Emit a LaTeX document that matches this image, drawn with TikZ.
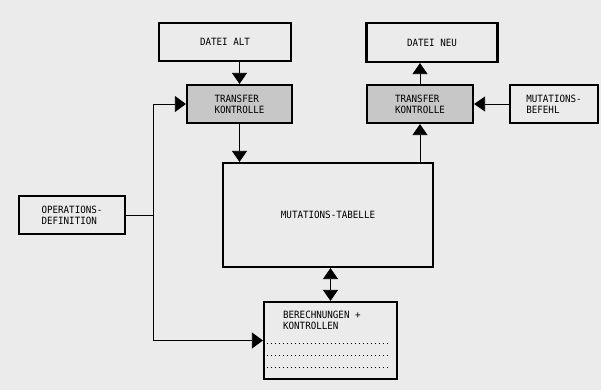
\documentclass[tikz,border=0pt]{standalone}
\usepackage{fontspec}
\setmonofont[FakeStretch=0.92]{DejaVu Sans Mono}
\usetikzlibrary{arrows.meta}
\tikzset{
  blk/.style={draw,line width=2.2pt,inner sep=0pt,align=left},
  tk/.style={blk,fill=black!22},
  pfeil/.style={line width=0.8pt,-{Triangle[width=15pt,length=11pt]}},
}
\begin{document}
\begin{tikzpicture}[x=1pt,y=-1pt,font=\ttfamily\fontsize{10}{11}\selectfont]
\fill[black!8] (0,0) rectangle (601,390);
\useasboundingbox (0,0) rectangle (601,390);
% Dateien und Transfer
\node[blk,minimum width=132,minimum height=38] (alt) at (225,42) {DATEI ALT};
\node[tk,minimum width=105,minimum height=38] (tkl) at (239.5,104) {TRANSFER\\KONTROLLE};
\node[blk,minimum width=131,minimum height=39] (neu) at (432,42.5) {DATEI NEU};
\node[tk,minimum width=106,minimum height=38] (tkr) at (420,104) {TRANSFER\\KONTROLLE};
\node[blk,minimum width=88,minimum height=38] (bef) at (554,104) {MUTATIONS-\\BEFEHL};
\node[blk,minimum width=106,minimum height=38] (op) at (72,215) {OPERATIONS-\\DEFINITION};
\node[blk,minimum width=210,minimum height=104] (tab) at (328,215) {MUTATIONS-TABELLE};
\node[blk,minimum width=133,minimum height=77] (ber) at (330.5,340.5) {};
\node[anchor=north west,align=left,inner sep=0pt] (bertxt) at ([xshift=20pt,yshift=-10pt]ber.north west) {BERECHNUNGEN +\\KONTROLLEN};
\foreach \dy in {2.5,14.5,26.5}{\draw[line width=1pt,dash pattern=on 1pt off 3pt] ([xshift=4pt,yshift=-\dy pt]ber.west) -- ([xshift=-9pt,yshift=-\dy pt]ber.east);}
% Verbindungen
\coordinate (jn) at (153,215);
\draw[pfeil] (tkl.north |- alt.south) -- (tkl.north);
\draw[pfeil] (tkl.south) -- (tkl.south |- tab.north);
\draw[pfeil] (tkr.south |- tab.north) -- (tkr.south);
\draw[pfeil] (tkr.north) -- (tkr.north |- neu.south);
\draw[pfeil] (bef.west) -- (tkr.east);
\draw[line width=0.8pt] (op.east) -- (jn);
\draw[pfeil,-{Triangle[width=16pt,length=11pt]}] (jn) |- (tkl.west);
\draw[pfeil,-{Triangle[width=16pt,length=11pt]}] (jn) |- (ber.west);
\draw[pfeil,{Triangle[width=15pt,length=11pt]}-{Triangle[width=15pt,length=11pt]}] (ber.north) -- (ber.north |- tab.south);
\end{tikzpicture}
\end{document}
